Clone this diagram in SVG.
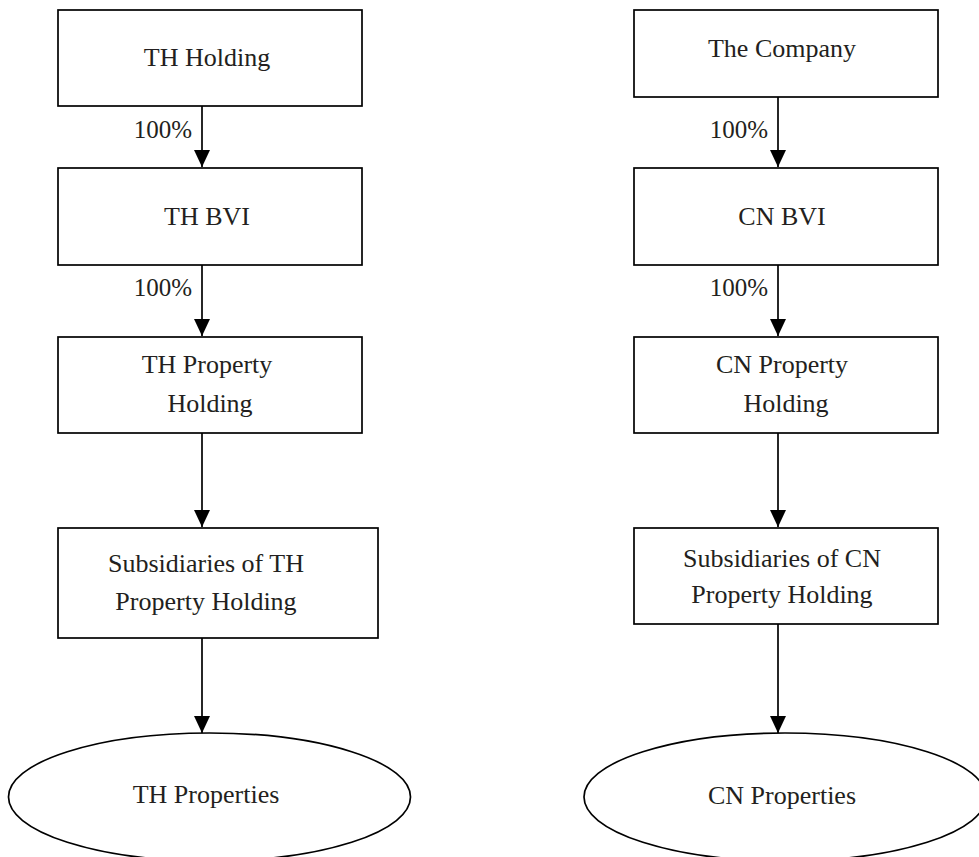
<svg xmlns="http://www.w3.org/2000/svg" width="979" height="857" viewBox="0 0 979 857">
<style>
.box{fill:#fff;stroke:#000;stroke-width:1.7}
.t{font-family:"Liberation Serif","Times New Roman",serif;font-size:26px;fill:#231f20;text-anchor:middle}
.p{font-family:"Liberation Serif","Times New Roman",serif;font-size:25px;fill:#231f20;text-anchor:end}
.c{stroke:#000;stroke-width:1.7;fill:none}
</style>
<defs>
<marker id="ah" markerUnits="userSpaceOnUse" markerWidth="17" markerHeight="16" viewBox="0 0 17 16" refX="17" refY="8" orient="auto">
<path d="M0,0 L17,8 L0,16 Z" fill="#000"/>
</marker>
</defs>
<rect width="979" height="857" fill="#fff"/>
<g id="connectors">
<line class="c" x1="202" y1="106" x2="202" y2="167" marker-end="url(#ah)"/>
<line class="c" x1="202" y1="265" x2="202" y2="336" marker-end="url(#ah)"/>
<line class="c" x1="202" y1="433" x2="202" y2="527" marker-end="url(#ah)"/>
<line class="c" x1="202" y1="638" x2="202" y2="733" marker-end="url(#ah)"/>
<line class="c" x1="778" y1="97" x2="778" y2="167" marker-end="url(#ah)"/>
<line class="c" x1="778" y1="265" x2="778" y2="336" marker-end="url(#ah)"/>
<line class="c" x1="778" y1="433" x2="778" y2="527" marker-end="url(#ah)"/>
<line class="c" x1="778" y1="624" x2="778" y2="733" marker-end="url(#ah)"/>
<text class="p" x="192" y="138">100%</text>
<text class="p" x="192" y="296">100%</text>
<text class="p" x="768" y="138">100%</text>
<text class="p" x="768" y="296">100%</text>
</g>
<g id="th-holding">
<rect class="box" x="58" y="10" width="304" height="96"/>
<text class="t" x="207" y="66">TH Holding</text>
</g>
<g id="th-bvi">
<rect class="box" x="58" y="168" width="304" height="97"/>
<text class="t" x="207" y="225">TH BVI</text>
</g>
<g id="th-property-holding">
<rect class="box" x="58" y="337" width="304" height="96"/>
<text class="t" x="207" y="373">TH Property</text>
<text class="t" x="210" y="412">Holding</text>
</g>
<g id="th-subsidiaries">
<rect class="box" x="58" y="528" width="320" height="110"/>
<text class="t" x="206" y="572">Subsidiaries of TH</text>
<text class="t" x="206" y="610">Property Holding</text>
</g>
<g id="th-properties">
<ellipse class="box" cx="209.5" cy="797" rx="201" ry="64"/>
<text class="t" x="206" y="803">TH Properties</text>
</g>
<g id="the-company">
<rect class="box" x="634" y="10" width="304" height="87"/>
<text class="t" x="782" y="57">The Company</text>
</g>
<g id="cn-bvi">
<rect class="box" x="634" y="168" width="304" height="97"/>
<text class="t" x="782" y="225">CN BVI</text>
</g>
<g id="cn-property-holding">
<rect class="box" x="634" y="337" width="304" height="96"/>
<text class="t" x="782" y="373">CN Property</text>
<text class="t" x="786" y="412">Holding</text>
</g>
<g id="cn-subsidiaries">
<rect class="box" x="634" y="528" width="304" height="96"/>
<text class="t" x="782" y="567">Subsidiaries of CN</text>
<text class="t" x="782" y="603">Property Holding</text>
</g>
<g id="cn-properties">
<ellipse class="box" cx="785" cy="797" rx="201" ry="64"/>
<text class="t" x="782" y="804">CN Properties</text>
</g>
</svg>
